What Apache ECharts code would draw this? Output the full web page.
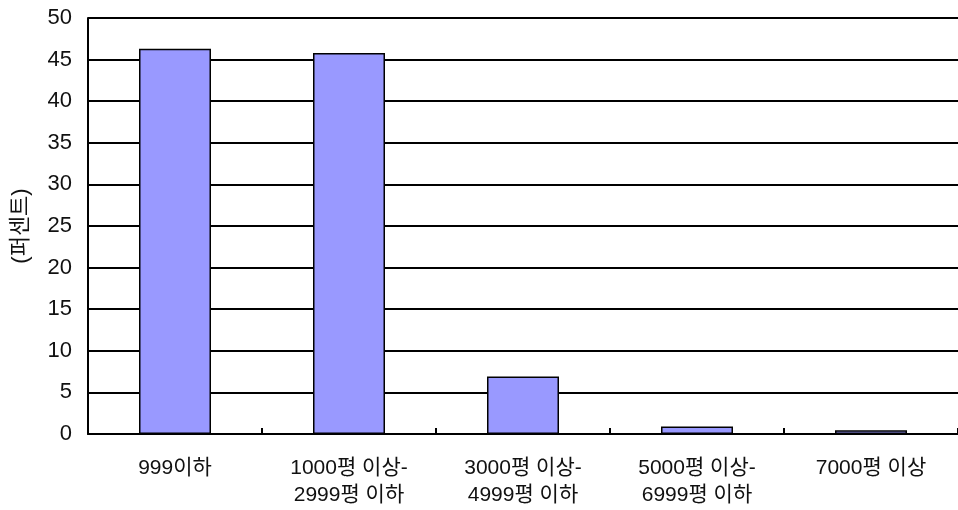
<!DOCTYPE html>
<html><head><meta charset="utf-8">
<script src="https://cdn.jsdelivr.net/npm/echarts@6/dist/echarts.min.js"></script>
<style>html,body{margin:0;padding:0;background:#fff}#c{width:958px;height:510px}</style>
</head><body><div id="c"></div>
<script>
const categories = ['999이하', '1000평 이상-\n2999평 이하', '3000평 이상-\n4999평 이하', '5000평 이상-\n6999평 이하', '7000평 이상'];
const values = [46.3, 45.8, 6.9, 0.9, 0.45];
const yAxisName = '(퍼센트)';
const fontFam = '"Liberation Sans", "Noto Sans CJK KR", sans-serif';
const chart = echarts.init(document.getElementById('c'), null, {renderer: 'canvas'});
chart.setOption({
  animation: false,
  grid: {left: 88, right: 0, top: 18, bottom: 76, containLabel: false, outerBoundsMode: 'none'},
  xAxis: {
    type: 'category', data: categories,
    axisLine: {lineStyle: {color: '#000', width: 2}},
    axisTick: {show: true, inside: true, length: 6, lineStyle: {color: '#000', width: 2}},
    axisLabel: {color: '#111', fontSize: 21, fontFamily: fontFam, lineHeight: 27, margin: 21, interval: 0}
  },
  yAxis: {
    type: 'value', min: 0, max: 50, interval: 5,
    name: yAxisName, nameLocation: 'middle', nameGap: 56, nameRotate: 90,
    nameTextStyle: {color: '#111', fontSize: 22, fontFamily: fontFam},
    axisLine: {show: true, lineStyle: {color: '#000', width: 2}},
    axisTick: {show: false},
    axisLabel: {color: '#111', fontSize: 22, fontFamily: fontFam, margin: 16},
    splitLine: {show: true, lineStyle: {color: '#000', width: 2}}
  },
  series: [{
    type: 'bar', data: values, barWidth: 72,
    itemStyle: {color: '#9999FF', borderColor: '#000', borderWidth: 1.5}
  }]
});
</script></body></html>
